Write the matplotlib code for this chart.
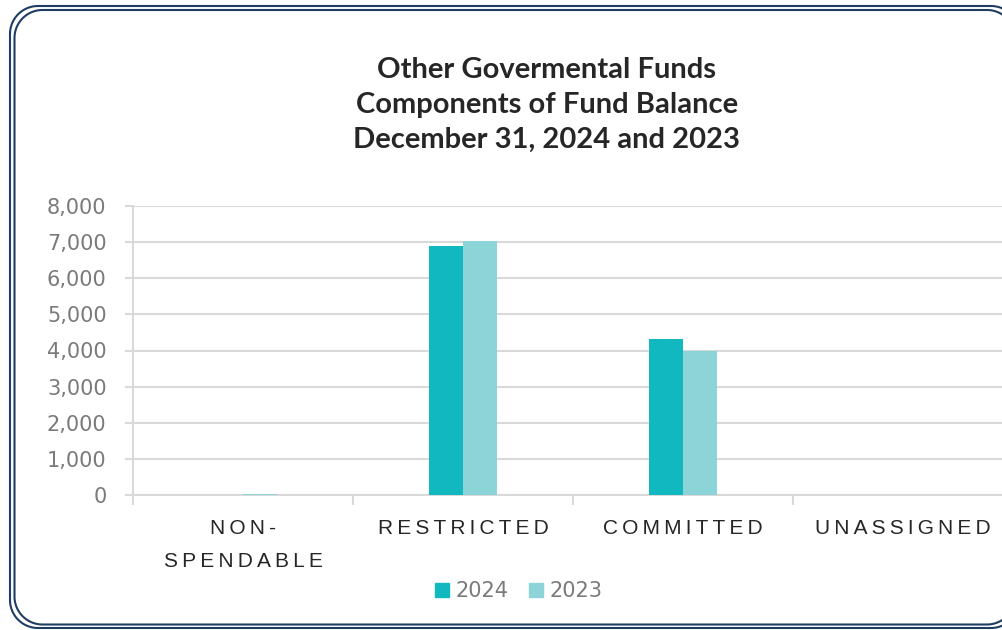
import matplotlib.pyplot as plt
import numpy as np
from matplotlib.lines import Line2D

categories = ["NON-\nSPENDABLE", "RESTRICTED", "COMMITTED", "UNASSIGNED"]
values_2024 = [10, 6900, 4320, 0]
values_2023 = [20, 7030, 3990, 0]
series_names = ["2024", "2023"]
y_ticks = [0, 1000, 2000, 3000, 4000, 5000, 6000, 7000, 8000]

color_2024 = "#12b8c0"
color_2023 = "#8dd4d9"
grid_color = "#d9d9d9"
label_gray = "#7a7a7a"
dark = "#262626"
navy = "#1f3d63"

W, H = 1003, 630


def spaced(s):
    # wide letter spacing like the original labels
    return "\n".join("\u2009".join(line) for line in s.split("\n"))


def rounded_rect(x0, y0, x1, y1, r, xmax):
    # polyline around a rounded rectangle in pixels, cut at xmax
    t = np.linspace(0, np.pi / 2, 40)
    xs, ys = [], []
    for cx, cy, a0 in [(x1 - r, y1 - r, 0), (x0 + r, y1 - r, np.pi / 2),
                       (x0 + r, y0 + r, np.pi), (x1 - r, y0 + r, 1.5 * np.pi)]:
        xs.extend(cx + r * np.cos(a0 + t))
        ys.extend(cy + r * np.sin(a0 + t))
    xs = np.array(xs)
    ys = np.array(ys)
    keep = xs <= xmax
    return xs[keep], ys[keep]


fig = plt.figure(figsize=(W / 100, H / 100), dpi=100)

# double rounded border, right side runs off the canvas
for x0, y0, x1, y1 in [(10, 2, 1019, 624), (14.5, 5.5, 1015, 620)]:
    bx, by = rounded_rect(x0, y0, x1, y1, 28, W + 1)
    fig.add_artist(Line2D(bx / W, by / H, transform=fig.transFigure,
                          color=navy, linewidth=1.5))

ax = fig.add_axes([133 / W, 135 / H, 880 / W, 289 / H])

x = np.arange(len(categories))
w = 0.155
ax.bar(x - w / 2, values_2024, w, color=color_2024, zorder=3)
ax.bar(x + w / 2, values_2023, w, color=color_2023, zorder=3)

ax.set_xlim(-0.5, 3.5)
ax.set_ylim(0, 8000)
ax.set_yticks(y_ticks)
ax.set_yticklabels([f"{v:,}" for v in y_ticks], fontsize=15, color=label_gray,
                   family="DejaVu Sans")
ax.yaxis.grid(True, color=grid_color, linewidth=1.5, zorder=0)
ax.tick_params(axis="y", length=6, width=1.5, color=grid_color, pad=13)

ax.set_xticks(x)
ax.set_xticklabels([spaced(c) for c in categories], fontsize=15, color=dark,
                   family="Liberation Sans")
for t in ax.get_xticklabels():
    t.set_linespacing(1.95)
ax.set_xticks(np.arange(-0.5, 4.0, 1.0), minor=True)
ax.tick_params(axis="x", which="major", length=0, pad=17)
ax.tick_params(axis="x", which="minor", length=7, width=1.5, color=grid_color)

for side in ["top", "right"]:
    ax.spines[side].set_visible(False)
ax.spines["left"].set_color(grid_color)
ax.spines["left"].set_linewidth(1.5)
ax.spines["bottom"].set_color(grid_color)
ax.spines["bottom"].set_linewidth(1.5)

fig.text(547 / W, 1 - 105 / H,
         "Other Govermental Funds\nComponents of Fund Balance\nDecember 31, 2024 and 2023",
         ha="center", va="center", fontsize=21, fontweight="bold", color=dark,
         family="Lato", linespacing=1.42)

handles = [Line2D([], [], marker="s", linestyle="none", markersize=10.5, color=c)
           for c in (color_2024, color_2023)]
leg = fig.legend(handles, series_names, loc="center", bbox_to_anchor=(517 / W, 1 - 591 / H),
                 ncol=2, frameon=False, handletextpad=0.15, columnspacing=0.8,
                 handlelength=1.0, prop={"family": "DejaVu Sans", "size": 15})
for t in leg.get_texts():
    t.set_color(label_gray)

fig.savefig("out.png", dpi=100)
